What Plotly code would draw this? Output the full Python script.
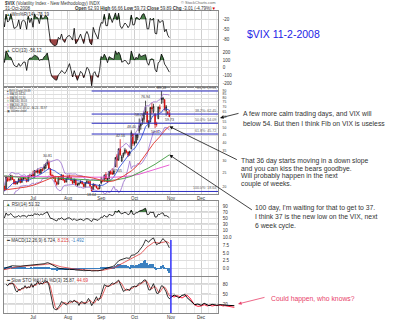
import numpy as np
import pandas as pd
import plotly.graph_objects as go

FONT = "Arial, Liberation Sans, sans-serif"

# ---------------------------------------------------------------- calendar
HOLIDAYS = ["2008-05-26", "2008-07-04", "2008-09-01", "2008-11-27", "2008-12-25"]
calendar = pd.bdate_range("2008-04-01", "2008-12-31", freq="C", holidays=HOLIDAYS)
pos = {d.strftime("%Y-%m-%d"): i for i, d in enumerate(calendar)}

# ---------------------------------------------------------------- data
# closes used only to warm up the moving averages / oscillators (Apr 1 - May 14)
early_close = [22.68, 23.17, 22.45, 22.45, 22.42, 22.73, 23.68, 22.79, 23.82, 23.45,
               22.81, 21.05, 20.56, 20.37, 20.44, 21.73, 20.63, 19.69, 19.67, 19.59,
               19.53, 20.79,
               18.18, 18.18, 18.44, 18.70, 20.41, 19.87, 19.72, 18.32, 18.38, 17.99]

# daily OHLC, May 15 - Oct 31 2008
open_ = [17.90, 17.20, 16.45, 17.10, 17.55, 18.80, 18.90, 19.40, 18.10, 17.85, 17.60,
         18.60, 19.00, 20.40, 20.30, 19.20, 23.40, 22.50, 22.40, 23.60, 22.50, 21.80,
         21.00, 21.60, 22.70, 21.50, 22.90, 23.00, 22.60, 21.90, 23.80, 23.50,
         24.50, 23.50, 25.60, 25.20, 25.90, 24.80, 26.30, 26.60, 26.80, 28.80, 29.50,
         26.40, 24.00, 23.70, 23.10, 21.50, 20.90, 23.00, 22.50, 24.10, 22.20, 21.60,
         22.80, 23.50, 23.30, 22.00, 21.30, 22.40, 20.70, 20.80, 21.30, 21.70, 21.00,
         20.00, 21.40, 21.70, 21.80, 20.10, 19.20, 20.80, 20.30, 19.60, 19.50,
         21.30, 22.10, 21.90, 24.30, 21.80, 22.70, 25.50, 25.00, 24.50, 27.50, 32.50,
         30.60, 36.40, 30.00, 32.50, 33.90, 35.10, 34.50, 33.50, 36.30, 45.70,
         39.50, 39.70, 43.20, 48.00, 51.80, 56.00, 57.50, 65.00, 64.70, 51.30, 55.20,
         69.30, 65.20, 62.30, 53.50, 58.20, 69.40, 79.00, 78.40, 78.20, 65.90, 64.30, 62.93]
high = [18.10, 17.45, 17.05, 18.10, 19.10, 19.00, 19.75, 19.45, 18.30, 18.05, 18.00,
        19.50, 20.60, 21.00, 20.40, 23.90, 23.70, 23.40, 24.20, 24.00, 22.60, 22.00,
        21.80, 23.00, 23.20, 23.00, 23.40, 23.50, 22.90, 24.00, 24.60, 24.20,
        25.80, 26.00, 26.10, 26.70, 26.40, 26.60, 26.90, 28.50, 29.10, 30.81, 30.20,
        26.90, 24.60, 24.00, 23.80, 21.90, 23.30, 23.20, 24.30, 24.20, 22.60, 23.20,
        23.90, 24.20, 23.40, 22.40, 22.80, 22.60, 21.40, 21.50, 22.20, 22.00, 21.10,
        21.60, 22.40, 22.10, 21.90, 20.20, 21.10, 21.00, 20.50, 19.90, 20.90,
        23.40, 22.80, 24.30, 25.20, 23.00, 25.60, 25.90, 26.80, 26.20, 31.80, 33.50,
        36.50, 42.16, 33.00, 34.20, 36.80, 35.90, 34.80, 35.20, 48.40, 46.00,
        40.90, 45.50, 45.70, 58.24, 54.50, 59.10, 64.90, 76.94, 64.90, 56.90, 69.60,
        74.60, 73.30, 63.50, 55.40, 70.10, 72.40, 89.53, 81.70, 79.00, 71.90, 65.50, 66.66]
low = [17.00, 16.35, 16.30, 17.00, 17.40, 18.30, 18.70, 17.95, 17.60, 17.30, 17.40,
       18.40, 18.80, 19.90, 18.80, 19.10, 21.70, 21.80, 22.10, 22.30, 20.80, 20.70,
       20.80, 21.40, 21.20, 21.40, 22.20, 22.40, 21.50, 21.80, 23.10, 23.20,
       23.40, 23.20, 24.80, 24.60, 24.50, 24.50, 25.50, 25.80, 26.60, 28.00, 26.40,
       24.00, 23.30, 22.70, 21.50, 20.40, 20.80, 22.20, 22.30, 22.10, 21.30, 21.50,
       22.50, 22.90, 21.90, 21.00, 21.20, 20.50, 20.10, 20.40, 21.10, 20.80, 19.80,
       19.90, 21.10, 20.90, 20.10, 18.64, 19.10, 20.10, 19.50, 19.10, 19.30,
       20.90, 21.50, 21.80, 22.50, 21.40, 22.50, 24.20, 24.20, 24.30, 27.30, 27.05,
       30.10, 32.50, 29.50, 31.60, 33.20, 33.80, 31.90, 32.50, 36.00, 37.95,
       38.20, 39.60, 41.50, 46.40, 48.90, 52.80, 54.60, 61.80, 54.40, 50.20, 55.00,
       62.50, 63.10, 50.11, 51.30, 57.60, 64.70, 73.20, 74.00, 65.90, 60.80, 61.50, 59.73]
close = [17.13, 16.47, 16.80, 17.58, 18.88, 18.59, 19.48, 18.06, 17.83, 17.56, 17.83,
         19.05, 20.37, 20.31, 18.99, 23.56, 21.96, 22.37, 23.99, 22.51, 20.96, 21.06,
         21.42, 22.73, 21.36, 22.80, 22.97, 22.78, 21.65, 23.83, 23.44, 23.95,
         23.57, 25.80, 25.31, 25.79, 24.89, 26.38, 25.83, 27.49, 28.48, 29.51, 26.58,
         24.05, 23.76, 22.89, 21.61, 20.82, 23.10, 22.49, 24.14, 22.19, 21.51, 22.94,
         23.49, 23.49, 22.06, 21.15, 22.47, 20.66, 20.71, 21.17, 21.60, 20.98, 20.13,
         21.28, 21.72, 21.23, 20.21, 18.81, 20.96, 20.35, 19.78, 19.43, 20.65,
         21.99, 21.89, 24.03, 22.64, 22.64, 25.47, 24.59, 24.39, 25.66, 31.70, 30.30,
         36.22, 33.10, 32.07, 33.94, 35.72, 34.70, 32.82, 34.74, 46.72, 39.39,
         39.81, 45.26, 45.14, 52.05, 53.68, 57.53, 63.92, 69.95, 54.99, 55.13, 69.25,
         67.61, 70.33, 52.97, 53.11, 69.65, 67.80, 79.13, 80.06, 66.96, 69.96, 62.90, 59.89]

# long moving averages (weekly readings)
ma_dates = ["2008-06-02", "2008-06-09", "2008-06-16", "2008-06-23", "2008-06-30",
            "2008-07-07", "2008-07-14", "2008-07-21", "2008-07-28", "2008-08-04",
            "2008-08-11", "2008-08-18", "2008-08-25", "2008-09-02", "2008-09-08",
            "2008-09-15", "2008-09-22", "2008-09-29", "2008-10-06", "2008-10-13",
            "2008-10-20", "2008-10-27", "2008-10-31"]
ma100_vals = [23.9, 23.6, 23.3, 23.0, 22.9, 22.9, 23.0, 23.0, 22.9, 22.8, 22.6, 22.4,
              22.2, 22.1, 22.1, 22.3, 22.8, 23.6, 24.9, 26.6, 28.5, 31.0, 33.03]
ma200_vals = [23.6, 23.6, 23.6, 23.6, 23.5, 23.5, 23.5, 23.5, 23.4, 23.4, 23.3, 23.3,
              23.2, 23.2, 23.2, 23.3, 23.5, 23.8, 24.4, 25.3, 26.2, 27.4, 28.20]

# hand-drawn stochastic projection into Nov/Dec
proj_dates = ["2008-11-03", "2008-11-05", "2008-11-07", "2008-11-10", "2008-11-12",
              "2008-11-14", "2008-11-17", "2008-11-19", "2008-11-21", "2008-11-24",
              "2008-11-26", "2008-12-01", "2008-12-03", "2008-12-05", "2008-12-08",
              "2008-12-10", "2008-12-12", "2008-12-15", "2008-12-17", "2008-12-19",
              "2008-12-22", "2008-12-24", "2008-12-29", "2008-12-31"]
proj_k = [40, 47, 42, 38, 46, 48, 40, 30, 22, 18, 20, 16, 22, 18, 15, 19, 17, 16, 18,
          16, 17, 16, 15, 15]
proj_d = [45, 41, 45, 43, 38, 44, 47, 38, 26, 17, 13, 14, 18, 14, 17, 14, 16, 15, 17,
          14, 15, 13, 11, 10]

month_ticks = ["2008-07-01", "2008-08-01", "2008-09-02", "2008-10-01", "2008-11-03", "2008-12-01"]
month_labels = ["Jul", "Aug", "Sep", "Oct", "Nov", "Dec"]
price_ticks = [20, 25, 30, 35, 40, 45, 50, 55, 60, 65, 70, 75, 80, 85, 90]

# ---------------------------------------------------------------- indicators
n_early = len(early_close)
n_main = len(close)
assert calendar[n_early].strftime("%Y-%m-%d") == "2008-05-15"
assert calendar[n_early + n_main - 1].strftime("%Y-%m-%d") == "2008-10-31"

xs_all = np.arange(n_early + n_main)
xs = np.arange(n_early, n_early + n_main)
c_all = pd.Series(early_close + close, index=xs_all, dtype=float)
df = pd.DataFrame({"o": open_, "h": high, "l": low, "c": close}, index=xs, dtype=float)

ma10 = c_all.rolling(10).mean()
ma36 = c_all.rolling(36).mean()
bb_sd = c_all.rolling(10).std(ddof=0)
bb_up = ma10 + 2 * bb_sd
bb_lo = ma10 - 2 * bb_sd

ema12 = c_all.ewm(span=12, adjust=False).mean()
ema26 = c_all.ewm(span=26, adjust=False).mean()
macd = ema12 - ema26
signal = macd.ewm(span=9, adjust=False).mean()
hist = macd - signal

delta = c_all.diff()
gain = delta.clip(lower=0).ewm(alpha=1 / 14, adjust=False).mean()
loss = (-delta.clip(upper=0)).ewm(alpha=1 / 14, adjust=False).mean()
rsi = 100 - 100 / (1 + gain / loss)

hh14 = df.h.rolling(14).max()
ll14 = df.l.rolling(14).min()
willr = -100 * (hh14 - df.c) / (hh14 - ll14)
fastk = 100 * (df.c - ll14) / (hh14 - ll14)
slowk = fastk.rolling(3).mean()
slowd = slowk.rolling(3).mean()

tp = (df.h + df.l + df.c) / 3
tp_sma = tp.rolling(13).mean()
tp_md = tp.rolling(13).apply(lambda w: np.mean(np.abs(w - w.mean())), raw=True)
cci = (tp - tp_sma) / (0.015 * tp_md)

# ---------------------------------------------------------------- geometry
W, H = 400, 322
X0, X1 = 4 / W, 218 / W
X1_EXT = 240 / W
jul1 = pos["2008-07-01"]
r0, r1 = jul1 - 18.3, jul1 + 116.7
r1_ext = r0 + (r1 - r0) * (X1_EXT - X0) / (X1 - X0)


def ydom(top, bottom):
    return [1 - bottom / H, 1 - top / H]


month_x = [pos[d] for d in month_ticks]
week_x = [i for i, d in enumerate(calendar) if i > 0 and d.weekday() < calendar[i - 1].weekday()]

GRID = "#dedede"
FRAME = "#8a8a8a"
TXT = "#333333"
SMALL = 4.5

fig = go.Figure()


def line(x, y, color, xa, ya, width=0.8, dash=None):
    fig.add_trace(go.Scatter(x=x, y=y, mode="lines", xaxis=xa, yaxis=ya,
                             line=dict(color=color, width=width, dash=dash),
                             hoverinfo="skip", showlegend=False))


def band(x, y, level, above, color, xa, ya):
    y = np.asarray(y, dtype=float)
    m = ~np.isnan(y)
    xv, yv = np.asarray(x)[m], y[m]
    clipped = np.maximum(yv, level) if above else np.minimum(yv, level)
    fig.add_trace(go.Scatter(x=xv, y=np.full(len(xv), level), mode="lines", xaxis=xa, yaxis=ya,
                             line=dict(width=0), hoverinfo="skip", showlegend=False))
    fig.add_trace(go.Scatter(x=xv, y=clipped, mode="lines", xaxis=xa, yaxis=ya, fill="tonexty",
                             fillcolor=color, line=dict(width=0), hoverinfo="skip",
                             showlegend=False))


GREEN_FILL = "rgba(62,118,62,0.95)"
RED_FILL = "rgba(150,60,60,0.95)"

# Williams %R
band(xs, willr.values, -20, True, GREEN_FILL, "x", "y")
band(xs, willr.values, -80, False, RED_FILL, "x", "y")
line(xs, willr.values, "black", "x", "y")

# CCI
band(xs, cci.values, 100, True, GREEN_FILL, "x2", "y2")
band(xs, cci.values, -100, False, RED_FILL, "x2", "y2")
line(xs, cci.values, "black", "x2", "y2")

# Price panel
C_MA10, C_MA36, C_MA100, C_MA200, C_BB = "#1f3fd6", "#e0302a", "#3c9a3c", "#e84fd0", "#9a6fd0"
line(xs_all, bb_up.values, C_BB, "x3", "y3", 0.8)
line(xs_all, bb_lo.values, C_BB, "x3", "y3", 0.8)
line(xs_all, ma10.values, C_MA10, "x3", "y3", 0.8)
line([pos[d] for d in ma_dates], ma200_vals, C_MA200, "x3", "y3", 0.9)
line([pos[d] for d in ma_dates], ma100_vals, C_MA100, "x3", "y3", 0.9)
line(xs_all, ma36.values, C_MA36, "x3", "y3", 0.9)

swing_hi = df.h.max()
after_jul = df.loc[pos["2008-07-15"]:]
swing_lo = after_jul.l.min()
swing_lo_x = after_jul.l.idxmin()
fib_ratios = [0.0, 0.382, 0.5, 0.618, 1.0]
fib_levels = [swing_hi - r * (swing_hi - swing_lo) for r in fib_ratios]
for lv in fib_levels:
    line([swing_lo_x, len(calendar) - 1], [lv, lv], "#2b2bc0", "x3", "y3", 1.0)

fig.add_trace(go.Candlestick(
    x=xs, open=df.o, high=df.h, low=df.l, close=df.c, xaxis="x3", yaxis="y3",
    increasing=dict(line=dict(color="black", width=0.7), fillcolor="white"),
    decreasing=dict(line=dict(color="#d40000", width=0.7), fillcolor="#d40000"),
    whiskerwidth=0, hoverinfo="skip", showlegend=False))

# RSI
band(xs_all, rsi.values, 70, True, GREEN_FILL, "x4", "y4")
band(xs_all, rsi.values, 30, False, RED_FILL, "x4", "y4")
line(xs_all, rsi.values, "black", "x4", "y4")

# MACD
fig.add_trace(go.Bar(x=xs_all, y=hist.values, xaxis="x5", yaxis="y5",
                     marker=dict(color="#3b80c0", line=dict(width=0)),
                     width=0.85, hoverinfo="skip", showlegend=False))
line(xs_all, signal.values, "#e03a3a", "x5", "y5")
line(xs_all, macd.values, "black", "x5", "y5")

# Slow stochastics
line(xs, slowd.values, "#e03a3a", "x6", "y6")
line(xs, slowk.values, "black", "x6", "y6")

# projection drawn past the last bar
last_x = xs[-1]
px = [last_x] + [pos[d] for d in proj_dates]
line(px, [slowd.values[-1]] + proj_d, "#ff2040", "x7", "y7", 1.0)
line(px, [slowk.values[-1]] + proj_k, "black", "x7", "y7", 1.0)
line([pos["2008-11-03"]] * 2, [0, 1], "#2a2aff", "x7", "y8", 1.4)

# ---------------------------------------------------------------- axes


def xaxis(anchor, labels):
    return dict(domain=[X0, X1], range=[r0, r1], anchor=anchor, tickmode="array",
                tickvals=month_x, ticktext=month_labels, showticklabels=labels,
                showgrid=True, gridcolor="#cfcfcf", gridwidth=0.6,
                minor=dict(tickvals=week_x, showgrid=True, gridcolor="#ececec", gridwidth=0.5),
                showline=True, mirror=True, linecolor=FRAME, linewidth=0.8, zeroline=False,
                ticks="", ticklabelstandoff=0,
                tickfont=dict(size=SMALL, color=TXT, family=FONT))


def yaxis(anchor, dom, rng, vals, text=None, log=False, size=SMALL):
    d = dict(domain=dom, range=rng, anchor=anchor, side="right", tickmode="array",
             tickvals=vals, ticktext=text if text else [str(v) for v in vals],
             showgrid=True, gridcolor=GRID, gridwidth=0.6, showline=True, mirror=True,
             linecolor=FRAME, linewidth=0.8, zeroline=False, ticks="", ticklabelstandoff=3,
             tickfont=dict(size=size, color=TXT, family=FONT))
    if log:
        d["type"] = "log"
    return d


sto_dom = ydom(277, 313)
sto_rng = [-7, 101]

fig.update_layout(
    xaxis=xaxis("y", False),
    xaxis2=xaxis("y2", False),
    xaxis3=xaxis("y3", True),
    xaxis4=xaxis("y4", False),
    xaxis5=xaxis("y5", False),
    xaxis6=xaxis("y6", True),
    xaxis7=dict(domain=[X0, X1_EXT], range=[r0, r1_ext], anchor="y7", visible=False),
    yaxis=yaxis("x", ydom(11, 46), [-100, 5], [-20, -50, -80]),
    yaxis2=yaxis("x2", ydom(47, 87), [-248, 268], [200, 100, 0, -100, -200]),
    yaxis3=yaxis("x3", ydom(87, 194), [1.2532, 1.9791], price_ticks, log=True, size=3.3),
    yaxis4=yaxis("x4", ydom(201, 235), [-6.7, 106.7], [90, 70, 50, 30, 10]),
    yaxis5=yaxis("x5", ydom(236, 276), [-2.5, 10.6], [0, 2.5, 5, 7.5, 10],
                 ["0.0", "2.5", "5.0", "7.5", "10.0"]),
    yaxis6=yaxis("x6", sto_dom, sto_rng, [80, 50, 20]),
    yaxis7=dict(domain=sto_dom, range=sto_rng, anchor="x7", visible=False),
    yaxis8=dict(domain=ydom(240, 313), range=[0, 1], anchor="x7", visible=False),
)

shapes = []


def hline(ax, y, color="#9a9a9a", dash=None, width=0.8):
    shapes.append(dict(type="line", xref=f"x{ax} domain", x0=0, x1=1,
                       yref=f"y{ax}", y0=y, y1=y,
                       line=dict(color=color, width=width, dash=dash), layer="below"))


hline(4, 70)
hline(4, 30)
hline(6, 80)
hline(6, 20)
hline(6, 50, dash="dash")
fig.update_layout(shapes=shapes)

# ---------------------------------------------------------------- text
ann = []


def note(text, x, y, size=SMALL, color=TXT, xanchor="left", yanchor="middle"):
    ann.append(dict(text=text, x=x / W, y=1 - y / H, xref="paper", yref="paper",
                    showarrow=False, xanchor=xanchor, yanchor=yanchor, borderpad=0,
                    align="left", font=dict(size=size, color=color, family=FONT)))


last = df.iloc[-1]
prev_close = df.c.iloc[-2]
chg = last.c - prev_close
note("<b>$VIX</b> (Volatility Index - New Methodology) INDX", 4, 3.5)
note("© StockCharts.com", 217, 2.5, size=4, color="#666", xanchor="right")
note(calendar[last_x].strftime("%d-%b-%Y"), 4, 8.5)
note(f"<b>Open</b> {last.o:.2f} <b>High</b> {last.h:.2f} <b>Low</b> {last.l:.2f} "
     f"<b>Close</b> {last.c:.2f} <b>Chg</b> {chg:.2f} ({chg / prev_close * 100:.2f}%)"
     f"<span style='color:#d40000'>▼</span>", 217, 8.5, xanchor="right")

note(f"<span style='color:#3e763e'>▲</span> Wm%R(14) {willr.iloc[-1]:.2f}", 5, 14.5)
note(f"<span style='color:#3e763e'>▲</span> CCI(13) {cci.iloc[-1]:.2f}", 5, 50.5)

# price-panel legend, one compact block
legend_rows = [
    f"<span style='color:#555'>■</span> $VIX (Daily) {last.c:.2f}",
    f"<span style='color:{C_MA10}'>━</span> MA(10) {ma10.iloc[-1]:.2f}",
    f"<span style='color:{C_MA36}'>━</span> MA(36) {ma36.iloc[-1]:.2f}",
    f"<span style='color:{C_MA100}'>━</span> MA(100) {ma100_vals[-1]:.2f}",
    f"<span style='color:{C_MA200}'>━</span> MA(200) {ma200_vals[-1]:.2f}",
    f"<span style='color:{C_BB}'>━</span> BB(10,2.0) {bb_lo.iloc[-1]:.2f} - "
    f"{ma10.iloc[-1]:.2f} - {bb_up.iloc[-1]:.2f}",
    "<span style='color:#555'>▣</span> Volume undef",
]
note("<br>".join(legend_rows), 5, 88, size=2.6, yanchor="top")

note(f"<span style='color:#3e763e'>▲</span> RSI(14) {rsi.iloc[-1]:.2f}", 5, 204)
note(f"<span style='color:black'>━</span> MACD(12,26,9) {macd.iloc[-1]:.3f}, "
     f"<span style='color:#e03a3a'>{signal.iloc[-1]:.3f}</span>, "
     f"<span style='color:#3b80c0'>{hist.iloc[-1]:.3f}</span>", 5, 240)
note(f"<span style='color:black'>━</span> Slow STO %K(14) %D(3) {slowk.iloc[-1]:.2f}, "
     f"<span style='color:#e03a3a'>{slowd.iloc[-1]:.2f}</span>", 5, 280.5)

# swing labels on the price panel
for d, field in [("2008-07-15", "h"), ("2008-08-22", "l"), ("2008-09-16", "l"),
                 ("2008-09-18", "h"), ("2008-09-29", "h"), ("2008-10-06", "h"),
                 ("2008-10-10", "h"), ("2008-10-20", "l"), ("2008-10-24", "h"),
                 ("2008-10-31", "l")]:
    v = df.loc[pos[d], field]
    ann.append(dict(text=f"{v:.2f}", x=pos[d], y=np.log10(v), xref="x3", yref="y3",
                    showarrow=False, yshift=3.5 if field == "h" else -3.5,
                    yanchor="middle", xanchor="center", borderpad=0,
                    font=dict(size=3.6, color=TXT, family=FONT)))

for r, lv in zip(fib_ratios, fib_levels):
    ann.append(dict(text=f"{r * 100:.1f}%: {lv:.2f}", x=X1 - 1 / W, y=np.log10(lv),
                    xref="paper", yref="y3", showarrow=False, xanchor="right",
                    yanchor="bottom", borderpad=0, yshift=0.5,
                    font=dict(size=3.6, color="#666", family=FONT)))

# commentary
note("$VIX 11-2-2008", 246, 34, size=10.5, color="#2323e6")
note("A few more calm trading days, and VIX will", 242, 114, size=6.8)
note("below 54. But then I think Fib on VIX is useless", 242, 123, size=6.8)
note("That 36 day starts moving in a down slope", 240, 161, size=6.8)
note("and you can kiss the bears goodbye.", 240, 168.5, size=6.8)
note("Will probably happen in the next", 240, 176, size=6.8)
note("couple of weeks.", 240, 183.5, size=6.8)
note("100 day, I'm waiting for that to get to 37.", 254, 207.5, size=6.8)
note("I think 37 is the new low on the VIX, next", 254, 216.5, size=6.8)
note("6 week cycle.", 254, 225.5, size=6.8)
note("Could happen, who knows?", 270, 298.5, size=6.8, color="#e8406a")

ARROW = dict(showarrow=True, arrowhead=2, arrowsize=0.9, arrowwidth=0.8, arrowcolor="#111",
             text="", standoff=0)
ann.append(dict(x=220 / W, y=1 - 118 / H, xref="paper", yref="paper", ax=20, ay=-5, **ARROW))
ann.append(dict(x=last_x, y=np.log10(ma36.iloc[-1]), xref="x3", yref="y3", ax=69, ay=34, **ARROW))
ann.append(dict(x=last_x, y=np.log10(ma100_vals[-1]), xref="x3", yref="y3", ax=84, ay=56, **ARROW))
ann.append(dict(x=238 / W, y=1 - 304 / H, xref="paper", yref="paper", ax=28, ay=-7,
                **{**ARROW, "arrowcolor": "#e8406a"}))

fig.update_layout(
    annotations=ann,
    width=W, height=H, margin=dict(l=0, r=0, t=0, b=0, pad=0),
    paper_bgcolor="white", plot_bgcolor="rgba(0,0,0,0)",
    showlegend=False, bargap=0,
    font=dict(family=FONT, size=SMALL, color=TXT),
)
fig.update_xaxes(rangeslider_visible=False)

fig.write_html("out.html")
